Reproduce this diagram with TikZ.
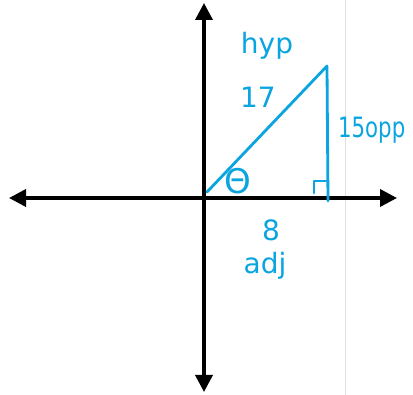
\documentclass[tikz,border=0pt]{standalone}
\usepackage{fontspec}
\setmainfont{DejaVu Sans}
\usetikzlibrary{arrows.meta}
\definecolor{pen}{RGB}{10,165,225}
\tikzset{
  axis/.style={black, line width=3.6pt, {Triangle[length=17pt,width=17pt]}-{Triangle[length=17pt,width=17pt]}},
  penline/.style={pen, line width=2.8pt, line cap=round, line join=round},
  hand/.style={pen, font=\fontsize{28}{30}\selectfont, inner sep=0pt}
}
\begin{document}
\begin{tikzpicture}[x=1pt,y=-1pt]
\useasboundingbox (0,0) rectangle (413,395);
\clip (0,0) rectangle (413,395);
\fill[white] (0,0) rectangle (413,395);
\draw[gray!25, line width=1pt] (345,0) -- (345,395);
% axes
\coordinate (xl) at (9,198);
\coordinate (xr) at (397,198);
\coordinate (yt) at (204,3);
\coordinate (yb) at (204,392);
\draw[axis] (xl) -- (xr);
\draw[axis] (yt) -- (yb);
% triangle
\coordinate (A) at (207,192);
\coordinate (B) at (327,66);
\coordinate (C) at (328,201);
\draw[penline] (A) -- (B) -- (C);
\draw[penline] (314,193) -- (314,181) -- (326,181);
% labels
\node[hand, font=\fontsize{34}{34}\selectfont] (theta) at (238,181) {Θ};
\node[hand] (hyp) at (267,46) {hyp};
\node[hand] (seventeen) at (258,97) {17};
\node[hand, anchor=west, xscale=0.76] (opp) at (338,130) {15opp};
\node[hand] (eight) at (271,230) {8};
\node[hand] (adj) at (265,266) {adj};
\end{tikzpicture}
\end{document}
